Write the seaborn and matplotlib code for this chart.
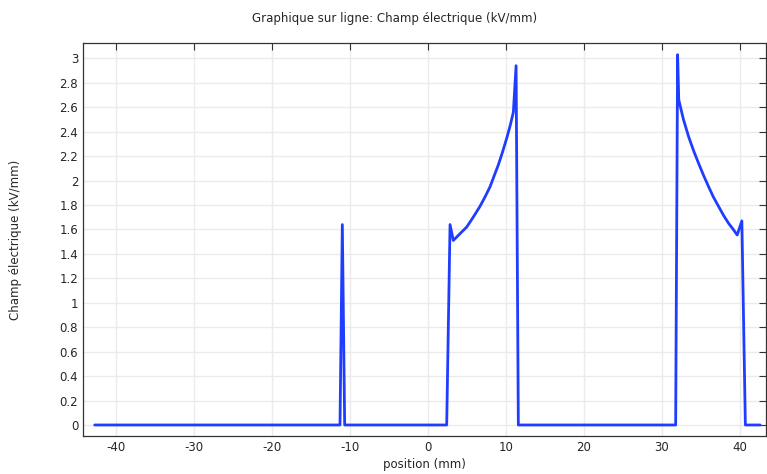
import matplotlib
matplotlib.use("Agg")
import matplotlib.pyplot as plt
import seaborn as sns
import pandas as pd

# values
position = [-42.8, -11.3, -11.0, -10.7, 2.4, 2.83, 3.25, 4.1, 4.97, 5.8, 6.68,
            7.35, 7.97, 8.5, 9.04, 9.6, 10.12, 10.55, 10.96, 11.31, 11.6,
            31.8, 32.05, 32.2, 32.8, 33.46, 34.1, 34.75, 35.4, 36.03, 36.65,
            37.3, 37.95, 38.6, 39.2, 39.7, 40.3, 40.75, 42.65]
champ = [0, 0, 1.64, 0, 0, 1.64, 1.51, 1.565, 1.62, 1.70, 1.79,
         1.87, 1.95, 2.04, 2.13, 2.24, 2.35, 2.45, 2.56, 2.94, 0,
         0, 3.03, 2.66, 2.50, 2.36, 2.245, 2.14, 2.04, 1.95, 1.865,
         1.79, 1.715, 1.65, 1.60, 1.555, 1.67, 0, 0]
xticks = [-40, -30, -20, -10, 0, 10, 20, 30, 40]
yticks = [0, 0.2, 0.4, 0.6, 0.8, 1, 1.2, 1.4, 1.6, 1.8, 2, 2.2, 2.4, 2.6, 2.8, 3]

df = pd.DataFrame({"position": position, "champ": champ})

sns.set_style("white")
plt.rcParams["font.family"] = ["DejaVu Sans"]
plt.rcParams["font.size"] = 8

fig = plt.figure(figsize=(7.67, 4.74), dpi=100)
ax = fig.add_axes([0.1082, 0.0802, 0.8905, 0.8291])

sns.lineplot(data=df, x="position", y="champ", sort=False, color="#1f3dff",
             linewidth=2.0, ax=ax)

ax.set_xlim(-44.3, 43.4)
ax.set_ylim(-0.09, 3.126)
ax.set_xticks(xticks)
ax.set_yticks(yticks)
ax.set_xticklabels([f"{v:g}" for v in xticks])
ax.set_yticklabels([f"{v:g}" for v in yticks])
ax.grid(True, color="#ebebeb", linewidth=1.0)
ax.set_axisbelow(True)
ax.tick_params(direction="in", length=5, width=0.8, color="#333333",
               top=True, right=True, labelsize=8.5)
for s in ax.spines.values():
    s.set_color("#333333")
    s.set_linewidth(0.9)

ax.set_xlabel("position (mm)", fontsize=8.5, labelpad=3)
ax.set_ylabel("Champ électrique (kV/mm)", fontsize=8.5, labelpad=27)
fig.text(0.515, 0.962, "Graphique sur ligne: Champ électrique (kV/mm)",
         ha="center", va="center", fontsize=8.5)

fig.savefig("out.png", dpi=100)
